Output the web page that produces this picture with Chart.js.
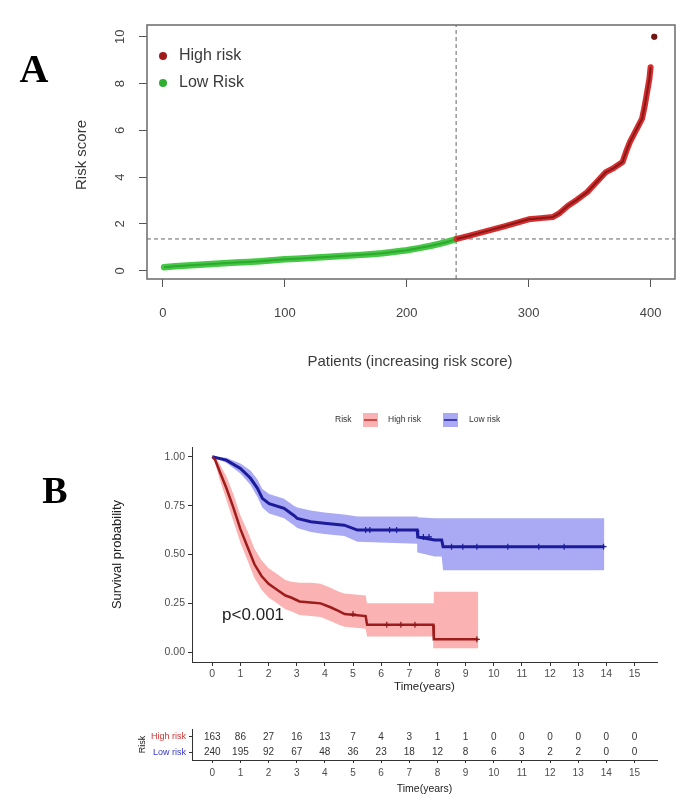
<!DOCTYPE html>
<html>
<head>
<meta charset="utf-8">
<script src="https://cdn.jsdelivr.net/npm/chart.js@4.4.1/dist/chart.umd.min.js"></script>
<style>
  html, body { margin: 0; padding: 0; background: #fff; }
  #page { position: relative; width: 685px; height: 798px; overflow: hidden; }
  canvas { position: absolute; left: 0; }
  #chartA { top: 0; }
  #chartB { top: 390px; }
  #chartT { top: 720px; }
</style>
</head>
<body>
<div id="page">
  <canvas id="chartA" width="685" height="390"></canvas>
  <canvas id="chartB" width="685" height="310"></canvas>
  <canvas id="chartT" width="685" height="78"></canvas>
</div>
<script>
// Panel A: patients ranked by increasing risk score
const lowRank = [1, 10, 20, 30, 40, 50, 60, 70, 80, 90, 100, 110, 120, 130, 140, 150, 160, 170, 180, 190, 200, 210, 220, 230, 240];
const lowScore = [0.15, 0.19, 0.23, 0.26, 0.29, 0.32, 0.35, 0.38, 0.41, 0.45, 0.49, 0.52, 0.55, 0.58, 0.61, 0.64, 0.67, 0.71, 0.75, 0.81, 0.88, 0.97, 1.07, 1.19, 1.34];
const highRank = [241, 250, 260, 270, 280, 290, 300, 310, 320, 325, 332, 340, 348, 355, 363, 370, 377, 380, 383, 388, 393, 395, 397, 399, 400, 401, 403];
const highScore = [1.36, 1.48, 1.62, 1.76, 1.9, 2.05, 2.2, 2.25, 2.3, 2.45, 2.77, 3.05, 3.36, 3.75, 4.2, 4.4, 4.65, 5.1, 5.5, 6.0, 6.5, 7.0, 7.6, 8.2, 8.7, null, 10.0];
const cutoffRank = 240.5;
const cutoffScore = 1.36;
const rankTicks = [0, 100, 200, 300, 400];
const scoreTicks = [0, 2, 4, 6, 8, 10];
const rankMin = -13, rankMax = 420;
const scoreMin = -0.35, scoreMax = 10.5;

// Panel B: Kaplan-Meier curves with confidence bands
const highTime = [0, 0.1, 0.25, 0.5, 0.75, 1.0, 1.25, 1.5, 1.75, 2.0, 2.3, 2.6, 2.8, 3.1, 3.5, 3.85, 4.2, 4.5, 4.7, 5.45, 5.5, 7.85, 7.87, 9.45];
const highSurv = [1, 0.985, 0.93, 0.84, 0.74, 0.63, 0.54, 0.45, 0.39, 0.35, 0.32, 0.29, 0.28, 0.26, 0.255, 0.25, 0.23, 0.21, 0.195, 0.185, 0.14, 0.14, 0.066, 0.066];
const highUpper = [1, 1.0, 0.965, 0.9, 0.81, 0.7, 0.62, 0.53, 0.47, 0.43, 0.4, 0.37, 0.36, 0.355, 0.355, 0.35, 0.33, 0.31, 0.3, 0.29, 0.25, 0.25, 0.31, 0.31];
const highLower = [1, 0.97, 0.89, 0.78, 0.67, 0.56, 0.47, 0.38, 0.32, 0.28, 0.25, 0.22, 0.21, 0.19, 0.185, 0.18, 0.16, 0.14, 0.13, 0.12, 0.08, 0.08, 0.02, 0.02];
const lowTime = [0, 0.5, 1.0, 1.36, 1.6, 1.78, 2.02, 2.55, 2.9, 3.02, 3.5, 3.98, 4.69, 5.16, 7.28, 7.3, 7.9, 8.15, 8.2, 13.93];
const lowSurv = [1, 0.983, 0.94, 0.89, 0.84, 0.787, 0.76, 0.736, 0.70, 0.685, 0.668, 0.66, 0.65, 0.625, 0.625, 0.59, 0.574, 0.574, 0.54, 0.54];
const lowUpper = [1, 0.995, 0.965, 0.93, 0.885, 0.835, 0.81, 0.785, 0.75, 0.74, 0.725, 0.715, 0.705, 0.695, 0.695, 0.69, 0.685, 0.685, 0.685, 0.685];
const lowLower = [1, 0.97, 0.915, 0.855, 0.795, 0.74, 0.71, 0.685, 0.65, 0.635, 0.615, 0.605, 0.595, 0.565, 0.555, 0.51, 0.49, 0.49, 0.42, 0.42];
const highCensorTime = [5.0, 6.2, 6.7, 7.2, 9.4];
const highCensorSurv = [0.195, 0.14, 0.14, 0.14, 0.066];
const lowCensorTime = [5.45, 5.6, 6.3, 6.55, 7.5, 7.7, 8.5, 8.9, 9.4, 10.5, 11.6, 12.5, 13.9];
const lowCensorSurv = [0.625, 0.625, 0.625, 0.625, 0.59, 0.59, 0.54, 0.54, 0.54, 0.54, 0.54, 0.54, 0.54];
const survTicks = [0, 0.25, 0.5, 0.75, 1];
const timeTicks = [0, 1, 2, 3, 4, 5, 6, 7, 8, 9, 10, 11, 12, 13, 14, 15];
const timeMin = -0.72, timeMax = 15.8;
const pValueText = 'p<0.001';

// Number at risk table
const riskGroups = ['High risk', 'Low risk'];
const atRiskHigh = [163, 86, 27, 16, 13, 7, 4, 3, 1, 1, 0, 0, 0, 0, 0, 0];
const atRiskLow = [240, 195, 92, 67, 48, 36, 23, 18, 12, 8, 6, 3, 2, 2, 0, 0];

const FONT = '"Liberation Sans", Arial, sans-serif';
const RED = '#c62828';
const BLUE = '#1c1c9a';
const RED_BAND = 'rgba(248,115,115,0.55)';
const BLUE_BAND = 'rgba(100,100,235,0.55)';

function pts(xs, ys) {
    return xs.map((x, i) => ({ x: x, y: ys[i] }));
}

function fixedTicks(values) {
    return scale => { scale.ticks = values.map(v => ({ value: v })); };
}

// ---------- Panel A ----------
const panelADecor = {
    id: 'panelADecor',
    afterDraw(chart) {
        const { ctx, chartArea: a, scales: { y } } = chart;
        ctx.save();
        // R style box
        ctx.strokeStyle = '#6a6a6a';
        ctx.lineWidth = 1.5;
        ctx.strokeRect(a.left, a.top, a.right - a.left, a.bottom - a.top);

        // rotated y tick labels
        ctx.fillStyle = '#444';
        ctx.font = '13px ' + FONT;
        ctx.textAlign = 'center';
        ctx.textBaseline = 'middle';
        scoreTicks.forEach(v => {
            ctx.save();
            ctx.translate(120, y.getPixelForValue(v));
            ctx.rotate(-Math.PI / 2);
            ctx.fillText(String(v), 0, 0);
            ctx.restore();
        });

        // axis titles
        ctx.font = '15px ' + FONT;
        ctx.fillStyle = '#3a3a3a';
        ctx.fillText('Patients (increasing risk score)', 410, 362);
        ctx.save();
        ctx.translate(82, 155);
        ctx.rotate(-Math.PI / 2);
        ctx.fillText('Risk score', 0, 0);
        ctx.restore();

        // legend
        ctx.textAlign = 'left';
        ctx.font = '16px ' + FONT;
        [['High risk', '#a01c1c', 56], ['Low Risk', '#2fae2f', 83]].forEach(([label, color, yy]) => {
            ctx.beginPath();
            ctx.arc(163, yy, 4, 0, Math.PI * 2);
            ctx.fillStyle = color;
            ctx.fill();
            ctx.fillStyle = '#3a3a3a';
            ctx.fillText(label, 179, yy);
        });

        // panel letter
        ctx.fillStyle = '#000';
        ctx.font = 'bold 40px "Liberation Serif", "DejaVu Serif", serif';
        ctx.textAlign = 'center';
        ctx.fillText('A', 34, 72);
        ctx.restore();
    }
};

new Chart(document.getElementById('chartA'), {
    type: 'line',
    data: {
        datasets: [
            {
                data: pts(highRank, highScore),
                borderColor: '#8a1818', borderWidth: 2,
                pointRadius: c => (c.dataIndex === highRank.length - 1 ? 3 : 0),
                pointBackgroundColor: '#6e1515', pointBorderWidth: 0,
                spanGaps: false
            },
            {
                data: pts(highRank, highScore),
                borderColor: '#d42e2e', borderWidth: 6, borderCapStyle: 'round', borderJoinStyle: 'round',
                pointRadius: 0, spanGaps: false
            },
            {
                data: pts(lowRank, lowScore),
                borderColor: '#2fa82f', borderWidth: 2, pointRadius: 0
            },
            {
                data: pts(lowRank, lowScore),
                borderColor: '#45c845', borderWidth: 6.5, borderCapStyle: 'round', borderJoinStyle: 'round',
                pointRadius: 0
            },
            {
                data: [{ x: cutoffRank, y: scoreMin }, { x: cutoffRank, y: scoreMax }],
                borderColor: '#666', borderWidth: 1, borderDash: [4, 3], pointRadius: 0
            },
            {
                data: [{ x: rankMin, y: cutoffScore }, { x: rankMax, y: cutoffScore }],
                borderColor: '#666', borderWidth: 1, borderDash: [4, 3], pointRadius: 0
            }
        ]
    },
    options: {
        responsive: false,
        animation: false,
        layout: { padding: { top: 25, right: 10, left: 0, bottom: 0 } },
        plugins: { legend: { display: false }, tooltip: { enabled: false } },
        scales: {
            x: {
                type: 'linear', min: rankMin, max: rankMax,
                afterBuildTicks: fixedTicks(rankTicks),
                afterFit: s => { s.height = 111; },
                border: { display: false },
                grid: { drawOnChartArea: false, tickLength: 8, color: '#555' },
                ticks: { color: '#444', font: { size: 13, family: FONT }, padding: 19, maxRotation: 0, autoSkip: false }
            },
            y: {
                type: 'linear', min: scoreMin, max: scoreMax,
                afterBuildTicks: fixedTicks(scoreTicks),
                afterFit: s => { s.width = 147; },
                border: { display: false },
                grid: { drawOnChartArea: false, tickLength: 8, color: '#555' },
                ticks: { color: 'rgba(0,0,0,0)', font: { size: 13, family: FONT } }
            }
        }
    },
    plugins: [panelADecor]
});

// ---------- Panel B ----------
const panelBDecor = {
    id: 'panelBDecor',
    afterDraw(chart) {
        const { ctx, chartArea: a, scales: { x, y } } = chart;
        ctx.save();
        ctx.fillStyle = '#222';
        ctx.textAlign = 'center';
        ctx.textBaseline = 'middle';

        // axis titles
        ctx.font = '11.5px ' + FONT;
        ctx.fillText('Time(years)', (a.left + a.right) / 2, 297);
        ctx.save();
        ctx.font = '13px ' + FONT;
        ctx.translate(117, (y.getPixelForValue(0) + y.getPixelForValue(1)) / 2);
        ctx.rotate(-Math.PI / 2);
        ctx.fillText('Survival probability', 0, 0);
        ctx.restore();

        // p value
        ctx.font = '17px ' + FONT;
        ctx.textAlign = 'left';
        ctx.fillText(pValueText, x.getPixelForValue(0.35), y.getPixelForValue(0.19));

        // legend
        const ly = 30;
        ctx.font = '8.5px ' + FONT;
        ctx.fillStyle = '#333';
        ctx.fillText('Risk', 335, ly);
        [[363, RED_BAND, RED, 'High risk', 388],
         [443, BLUE_BAND, BLUE, 'Low risk', 469]].forEach(([bx, fill, line, label, tx]) => {
            ctx.fillStyle = fill;
            ctx.fillRect(bx, ly - 7, 15, 14);
            ctx.strokeStyle = line;
            ctx.lineWidth = 1.5;
            ctx.beginPath();
            ctx.moveTo(bx + 1, ly);
            ctx.lineTo(bx + 14, ly);
            ctx.stroke();
            ctx.fillStyle = '#333';
            ctx.fillText(label, tx, ly);
        });

        // panel letter
        ctx.fillStyle = '#000';
        ctx.font = 'bold 38px "Liberation Serif", "DejaVu Serif", serif';
        ctx.textAlign = 'center';
        ctx.fillText('B', 55, 103);
        ctx.restore();
    }
};

// datasets listed first are drawn on top in Chart.js
new Chart(document.getElementById('chartB'), {
    type: 'line',
    data: {
        datasets: [
            {
                data: pts(highCensorTime, highCensorSurv), showLine: false,
                pointStyle: 'cross', pointRadius: 3, pointBorderColor: '#8e1818', pointBorderWidth: 1.2
            },
            {
                data: pts(lowCensorTime, lowCensorSurv), showLine: false,
                pointStyle: 'cross', pointRadius: 3, pointBorderColor: BLUE, pointBorderWidth: 1.2
            },
            { data: pts(highTime, highSurv), borderColor: '#9e1c1c', borderWidth: 2.5, pointRadius: 0 },
            { data: pts(lowTime, lowSurv), borderColor: BLUE, borderWidth: 3, pointRadius: 0 },
            {
                data: pts(highTime, highUpper), borderWidth: 0, pointRadius: 0,
                backgroundColor: RED_BAND, fill: '+1'
            },
            { data: pts(highTime, highLower), borderWidth: 0, pointRadius: 0, fill: false },
            {
                data: pts(lowTime, lowUpper), borderWidth: 0, pointRadius: 0,
                backgroundColor: BLUE_BAND, fill: '+1'
            },
            { data: pts(lowTime, lowLower), borderWidth: 0, pointRadius: 0, fill: false }
        ]
    },
    options: {
        responsive: false,
        animation: false,
        layout: { padding: { top: 57, right: 28, left: 0, bottom: 0 } },
        plugins: { legend: { display: false }, tooltip: { enabled: false } },
        scales: {
            x: {
                type: 'linear', min: timeMin, max: timeMax,
                afterBuildTicks: fixedTicks(timeTicks),
                afterFit: s => { s.height = 38; },
                border: { display: true, color: '#333', width: 1 },
                grid: { drawOnChartArea: false, tickLength: 4, color: '#333' },
                ticks: { color: '#4d4d4d', font: { size: 10.5, family: FONT }, padding: 2, maxRotation: 0, autoSkip: false }
            },
            y: {
                type: 'linear', min: -0.05, max: 1.05,
                afterBuildTicks: fixedTicks(survTicks),
                afterFit: s => { s.width = 192; },
                border: { display: true, color: '#333', width: 1 },
                grid: { drawOnChartArea: false, tickLength: 4, color: '#333' },
                ticks: {
                    color: '#4d4d4d', font: { size: 10.5, family: FONT }, padding: 3,
                    callback: v => Number(v).toFixed(2)
                }
            }
        }
    },
    plugins: [panelBDecor]
});

// ---------- Number at risk table ----------
const tableDecor = {
    id: 'tableDecor',
    afterDraw(chart) {
        const { ctx, chartArea: a, scales: { x, y } } = chart;
        ctx.save();
        ctx.textAlign = 'center';
        ctx.textBaseline = 'middle';
        ctx.fillStyle = '#333';
        ctx.font = '10px ' + FONT;
        timeTicks.forEach((t, i) => {
            ctx.fillText(String(atRiskHigh[i]), x.getPixelForValue(t), y.getPixelForValue(0));
            ctx.fillText(String(atRiskLow[i]), x.getPixelForValue(t), y.getPixelForValue(1));
        });
        ctx.fillStyle = '#222';
        ctx.font = '10.5px ' + FONT;
        ctx.fillText('Time(years)', (a.left + a.right) / 2, 69);
        ctx.save();
        ctx.font = '9px ' + FONT;
        ctx.translate(143, (a.top + a.bottom) / 2);
        ctx.rotate(-Math.PI / 2);
        ctx.fillText('Risk', 0, 0);
        ctx.restore();
        ctx.restore();
    }
};

new Chart(document.getElementById('chartT'), {
    type: 'line',
    data: { labels: riskGroups, datasets: [] },
    options: {
        responsive: false,
        animation: false,
        layout: { padding: { top: 9, right: 28, left: 0, bottom: 0 } },
        plugins: { legend: { display: false }, tooltip: { enabled: false } },
        scales: {
            x: {
                type: 'linear', min: timeMin, max: timeMax,
                afterBuildTicks: fixedTicks(timeTicks),
                afterFit: s => { s.height = 38; },
                border: { display: true, color: '#333', width: 1 },
                grid: { drawOnChartArea: false, tickLength: 3, color: '#333' },
                ticks: { color: '#4d4d4d', font: { size: 10, family: FONT }, padding: 4, maxRotation: 0, autoSkip: false }
            },
            y: {
                type: 'category', labels: riskGroups, offset: true,
                afterFit: s => { s.width = 192; },
                border: { display: true, color: '#333', width: 1 },
                grid: { drawOnChartArea: false, tickLength: 3, color: '#333', offset: false },
                ticks: {
                    font: { size: 9, family: FONT }, padding: 3,
                    color: c => (c.index === 0 ? '#cc3333' : '#3535c8')
                }
            }
        }
    },
    plugins: [tableDecor]
});
</script>
</body>
</html>
